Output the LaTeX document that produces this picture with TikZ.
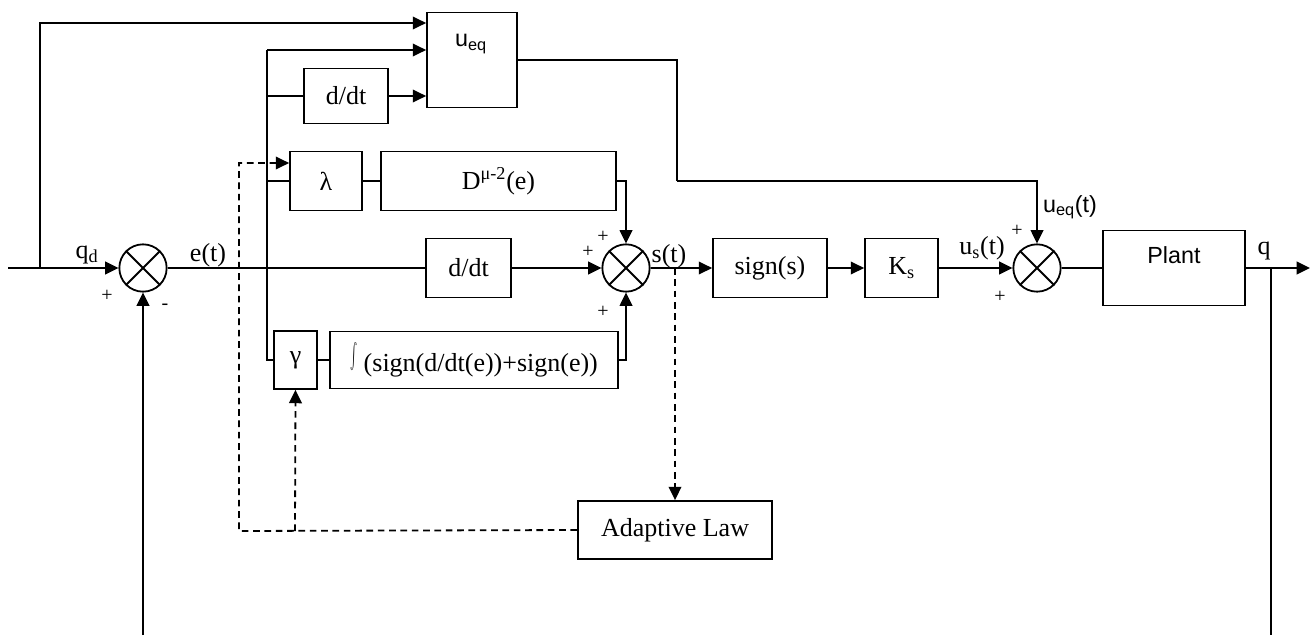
\documentclass[tikz,border=0pt]{standalone}
\usepackage{fontspec}
\setmainfont{Liberation Serif}
\setsansfont{Liberation Sans}
\usetikzlibrary{arrows.meta}
\begin{document}
\begin{tikzpicture}[x=0.75pt,y=-0.75pt,
  every node/.style={font=\fontsize{19.5}{22}\selectfont},
  sflbl/.style={font=\sffamily\fontsize{17.5}{20}\selectfont},
  blk/.style={draw,line width=1.35pt,rectangle,inner sep=0pt},
  sumj/.style={draw,circle,line width=1.35pt,minimum size=35.5pt,inner sep=0pt},
  wire/.style={line width=1.35pt},
  arr/.style={wire,-{Triangle[length=10pt,width=9.5pt]}},
  dsh/.style={wire,dash pattern=on 5pt off 3.5pt},
  pm/.style={font=\fontsize{15}{17}\selectfont,inner sep=0pt},
]
\useasboundingbox (0,0) rectangle (1312,635);

% summing junctions
\node[sumj] (sum1) at (143,268) {};
\node[sumj] (sum2) at (626,268) {};
\node[sumj] (sum3) at (1037,268) {};
\foreach \s in {sum1,sum2,sum3}
  \draw[wire] (\s.north west) -- (\s.south east) (\s.north east) -- (\s.south west);

% blocks
\node[blk,minimum width=67.5pt,minimum height=71.25pt] (ueq) at (472,60) {};
\node[sflbl] (ueqlbl) at (471,44) {u\textsubscript{eq}};
\node[blk,minimum width=63pt,minimum height=41.25pt] (ddt1) at (346,96) {d/dt};
\node[blk,minimum width=54pt,minimum height=44.25pt] (lam) at (326,181) {λ};
\node[blk,minimum width=176.25pt,minimum height=44.25pt] (Dblk) at (498.5,181) {D\textsuperscript{μ-2}(e)};
\node[blk,minimum width=63.75pt,minimum height=44.25pt] (ddt2) at (468.5,268) {d/dt};
\node[blk,minimum width=32.25pt,minimum height=43.5pt] (gam) at (295.5,360) {γ};
\node[blk,minimum width=216pt,minimum height=42.75pt] (intb) at (474,360) {\raisebox{1.5pt}{\scalebox{0.8}[1.9]{$\int$}} (sign(d/dt(e))+sign(e))};
\node[blk,minimum width=85.5pt,minimum height=44.25pt] (sgn) at (770,268) {sign(s)};
\node[blk,minimum width=54.75pt,minimum height=44.25pt] (Ks) at (901.5,268) {K\textsubscript{s}};
\node[blk,minimum width=106.5pt,minimum height=56.25pt] (plant) at (1174,268) {};
\node[sflbl] (plantlbl) at (1174,255) {Plant};
\node[blk,minimum width=145.5pt,minimum height=43.5pt] (adapt) at (675,530) {Adaptive Law};

% junction points
\coordinate (in) at (8,268);
\coordinate (b1) at (40,268);
\coordinate (t1) at (40,23);
\coordinate (t2) at (267,50);
\coordinate (m2) at (267,96);
\coordinate (l2) at (267,181);
\coordinate (g2) at (267,360);
\coordinate (s2) at (675,268);
\coordinate (k1) at (677,181);
\coordinate (qo) at (1271,268);
\coordinate (qend) at (1310,268);
\coordinate (fbR) at (1271,635);
\coordinate (fbL) at (143,635);
\coordinate (dl) at (239,531);
\coordinate (du) at (239,163);
\coordinate (dg) at (295,531);

% solid signal paths
\draw[arr] (in) -- (sum1.west);
\draw[arr] (b1) |- (ueq.west |- t1);
\draw[wire] (sum1.east) -- (ddt2.west);
\draw[wire] (t2) -- (g2) -- (gam.west);
\draw[arr] (t2) -- (ueq.west |- t2);
\draw[wire] (m2) -- (ddt1.west);
\draw[arr] (ddt1.east) -- (ueq.west |- ddt1.east);
\draw[wire] (l2) -- (lam.west);
\draw[wire] (lam.east) -- (Dblk.west);
\draw[arr] (Dblk.east) -| (sum2.north);
\draw[arr] (ddt2.east) -- (sum2.west);
\draw[wire] (gam.east) -- (intb.west);
\draw[arr] (intb.east) -| (sum2.south);
\draw[arr] (sum2.east) -- (sgn.west);
\draw[arr] (sgn.east) -- (Ks.west);
\draw[arr] (Ks.east) -- (sum3.west);
\draw[wire] (ueq.east) -| (k1);
\draw[arr] (k1) -| (sum3.north);
\draw[wire] (sum3.east) -- (plant.west);
\draw[arr] (plant.east) -- (qend);
\draw[wire] (qo) -- (fbR);
\draw[arr] (fbL) -- (sum1.south);

% adaptation paths
\draw[dsh,arr] (s2) -- (adapt.north);
\draw[dsh,arr] (adapt.west) -- (dl) -- (du) -- (lam.west |- du);
\draw[dsh,arr] (dg) -- (gam.south);

% signal labels
\node (lqd) at (87,255) {q\textsubscript{d}};
\node (let) at (208,255) {e(t)};
\node (lst) at (669,256) {s(t)};
\node (lus) at (982,248) {u\textsubscript{s}(t)};
\node[sflbl] (lueq) at (1070,207) {u\textsubscript{eq}(t)};
\node (lq) at (1264,251) {q};

% signs
\node[pm] (p1) at (107,296) {+};
\node[pm] (m1) at (165,307) {-};
\node[pm] (p2a) at (603,237) {+};
\node[pm] (p2b) at (588,252) {+};
\node[pm] (p2c) at (603,312) {+};
\node[pm] (p3a) at (1017,231) {+};
\node[pm] (p3b) at (1000,297) {+};
\end{tikzpicture}
\end{document}
